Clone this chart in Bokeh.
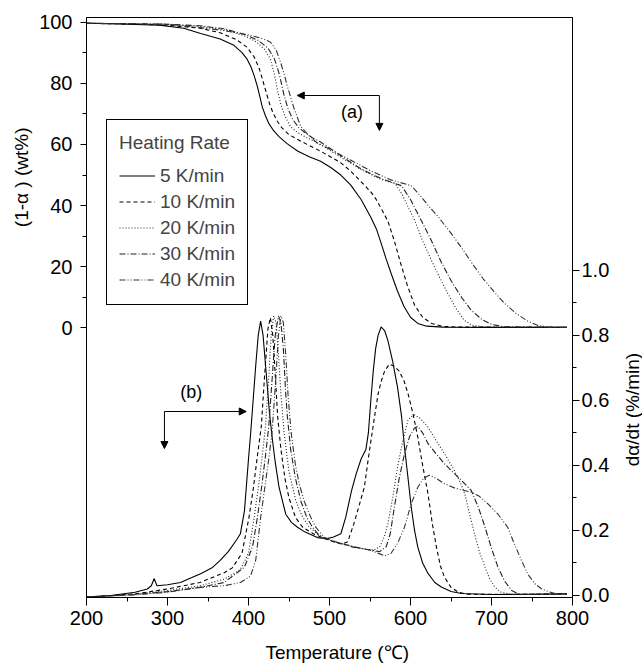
import math
from bokeh.plotting import figure
from bokeh.models import (Range1d, LinearAxis, FixedTicker, PrintfTickFormatter,
                          Legend, LegendItem, Label, Arrow, NormalHead, Title)
from bokeh.embed import file_html
from bokeh.resources import INLINE

# ---------------- data ----------------
# TGA curves: temperature (C) and residual mass (1-alpha) in wt%
T5 = [200, 250, 290, 320, 341, 365, 382, 392, 398, 403, 407, 411, 414, 417, 421, 425, 431, 438, 448, 461,
      475, 489, 502, 514, 526, 539, 551, 558, 564, 570, 576, 584, 592, 600, 609, 620, 640, 700, 793]
W5 = [99.6, 99.3, 99.0, 98.0, 96.3, 94.5, 92.4, 90.0, 88.0, 85.4, 82.5, 78.9, 75.6, 72.3, 69.3, 66.9, 64.5, 62.5, 60.2, 57.8,
      56.0, 54.5, 52.4, 50.0, 46.8, 42.0, 36.2, 32.3, 27.5, 22.5, 17.9, 12.0, 7.0, 3.5, 1.5, 0.6, 0.3, 0.2, 0.2]

T10 = [200, 250, 300, 340, 365, 385, 398, 407, 413, 417, 420, 423, 426, 430, 435, 441, 450, 465, 489, 514,
       526, 539, 551, 557, 565, 572, 580, 588, 596, 605, 615, 626, 640, 660, 793]
W10 = [99.6, 99.4, 99.0, 98.0, 96.5, 94.3, 91.8, 88.6, 85.0, 81.5, 78.7, 76.0, 73.3, 70.5, 67.8, 65.5, 63.2, 61.0, 57.8, 54.0,
       51.3, 47.8, 44.5, 42.3, 38.5, 35.0, 28.5, 21.0, 14.0, 7.5, 3.5, 1.5, 0.5, 0.3, 0.2]

T20 = [200, 250, 300, 340, 370, 395, 410, 420, 427, 432, 436, 440, 445, 452, 460, 470, 489, 514, 539, 564,
       581, 590, 598, 605, 615, 626, 636, 646, 656, 666, 676, 690, 710, 793]
W20 = [99.6, 99.5, 99.2, 98.6, 97.5, 95.5, 93.5, 91.0, 88.0, 82.8, 77.5, 73.0, 69.3, 65.8, 64.0, 62.5, 60.0, 55.8, 51.8, 48.5,
       47.3, 43.5, 39.0, 35.3, 28.5, 22.0, 16.5, 11.3, 6.5, 2.6, 0.9, 0.4, 0.2, 0.2]

T30 = [200, 250, 300, 340, 370, 395, 412, 424, 432, 438, 444, 449, 455, 462, 470, 480, 489, 514, 539, 564,
       589, 600, 613, 625, 638, 650, 663, 675, 688, 700, 715, 793]
W30 = [99.6, 99.5, 99.3, 98.8, 97.8, 96.0, 94.0, 91.5, 88.0, 83.0, 76.0, 71.5, 68.0, 65.5, 63.8, 62.0, 60.8, 56.3, 52.0, 48.8,
       46.5, 42.0, 35.3, 29.0, 21.5, 15.5, 10.0, 5.8, 2.8, 1.2, 0.4, 0.2]

T40 = [200, 250, 300, 340, 370, 400, 415, 427, 434, 440, 444, 448, 452, 456, 464.6, 475, 485, 500, 526, 550,
       575, 601, 612, 622, 634, 650, 665, 675, 690, 705, 716, 730, 745, 758, 770, 793]
W40 = [99.6, 99.5, 99.3, 98.2, 97.2, 95.8, 94.8, 93.5, 91.0, 86.5, 83.0, 79.0, 75.5, 72.0, 65.8, 62.8, 60.4, 58.5, 54.9, 51.5,
       48.5, 46.5, 43.3, 40.0, 36.4, 31.0, 25.5, 21.5, 16.0, 11.3, 8.1, 4.8, 2.2, 0.8, 0.3, 0.2]

# DTG curves: temperature (C) and d(alpha)/dt (%/min)
T5d = [200, 230, 260, 275, 280, 283.6, 287, 300, 316, 330, 341, 355, 365, 375, 385, 390, 395, 400, 403, 406,
       409, 412, 415, 418, 421, 423, 426, 429.5, 433, 437.7, 446, 453, 460.5, 470, 485, 497, 505, 514, 520, 527,
       533, 539, 545, 548, 551, 554, 557, 560, 563.7, 568, 572, 578, 584, 589, 592.6, 597, 601, 605, 609, 615,
       621.6, 630, 638, 650, 663, 700, 750, 793]
D5 = [-0.005, 0.0, 0.01, 0.02, 0.03, 0.052, 0.03, 0.033, 0.04, 0.055, 0.067, 0.085, 0.108, 0.135, 0.17, 0.19, 0.26, 0.42, 0.51, 0.61,
      0.71, 0.80, 0.844, 0.80, 0.71, 0.65, 0.56, 0.48, 0.41, 0.333, 0.25, 0.225, 0.21, 0.195, 0.178, 0.175, 0.18, 0.19, 0.24, 0.32,
      0.375, 0.42, 0.45, 0.50, 0.60, 0.69, 0.76, 0.80, 0.826, 0.815, 0.785, 0.72, 0.64, 0.55, 0.456, 0.36, 0.27, 0.20, 0.149, 0.10,
      0.068, 0.04, 0.026, 0.012, 0.006, 0.003, 0.004, 0.005]

T10d = [200, 260, 300, 340, 370, 380, 392, 400.6, 406, 411, 415.8, 420, 424, 427, 430, 433, 436, 440, 445, 450,
        458, 466.8, 480, 494, 505, 515, 522.5, 530, 537, 543, 549, 555, 560, 564, 568, 574, 580, 586, 592, 597,
        603, 609, 615, 621.6, 627, 632, 637, 642, 650, 659, 670, 720, 793]
D10 = [-0.005, 0.005, 0.02, 0.04, 0.07, 0.085, 0.13, 0.24, 0.33, 0.43, 0.52, 0.68, 0.82, 0.855, 0.80, 0.68, 0.55, 0.45, 0.36, 0.30,
       0.24, 0.21, 0.19, 0.175, 0.165, 0.158, 0.165, 0.22, 0.28, 0.333, 0.44, 0.54, 0.62, 0.66, 0.69, 0.712, 0.705, 0.69, 0.66, 0.62,
       0.56, 0.487, 0.40, 0.313, 0.22, 0.149, 0.09, 0.056, 0.025, 0.01, 0.004, 0.003, 0.005]

T20d = [200, 260, 300, 340, 370, 390, 400, 407, 412, 417, 421, 425, 428, 431, 434, 437, 440, 444, 450, 458.6,
        466, 475, 485, 494, 510, 530, 545, 555, 562, 567.5, 572, 578, 584, 590, 597, 601, 605, 612, 621.6, 632,
        642, 654, 661, 667, 673, 679, 685, 692, 698, 704, 712, 725, 793]
D20 = [-0.005, 0.004, 0.015, 0.03, 0.05, 0.08, 0.13, 0.24, 0.33, 0.43, 0.52, 0.67, 0.80, 0.86, 0.84, 0.74, 0.62, 0.50, 0.38, 0.29,
       0.245, 0.21, 0.19, 0.175, 0.163, 0.15, 0.142, 0.14, 0.15, 0.18, 0.22, 0.30, 0.395, 0.47, 0.54, 0.55, 0.555, 0.545, 0.518, 0.475,
       0.436, 0.385, 0.35, 0.313, 0.25, 0.19, 0.135, 0.087, 0.05, 0.026, 0.01, 0.003, 0.005]

T30d = [200, 260, 300, 340, 370, 395, 405, 411, 416, 421, 425, 429, 433, 437, 440, 443, 446, 448, 452, 458,
        464.7, 472, 479, 487, 494, 510, 530, 545, 555, 562, 570, 575, 580, 586, 592.6, 599, 605, 609, 615, 621.6,
        632, 642, 652, 663, 675, 684, 692, 700, 708, 716, 725, 735, 793]
D30 = [-0.005, 0.003, 0.012, 0.025, 0.04, 0.087, 0.15, 0.24, 0.33, 0.43, 0.52, 0.66, 0.80, 0.86, 0.84, 0.76, 0.62, 0.55, 0.45, 0.36,
       0.29, 0.24, 0.21, 0.185, 0.175, 0.163, 0.15, 0.142, 0.138, 0.135, 0.15, 0.19, 0.27, 0.36, 0.436, 0.49, 0.515, 0.52, 0.50, 0.467,
       0.435, 0.405, 0.38, 0.354, 0.323, 0.27, 0.21, 0.145, 0.087, 0.045, 0.015, 0.003, 0.005]

T40d = [200, 260, 300, 340, 370, 390, 402.6, 409, 415, 420, 425, 429, 433, 437, 440, 443, 446, 449, 452.7, 458,
        463, 468.8, 476, 483, 494, 510, 530, 550, 562, 568, 576, 584, 592.6, 601, 609, 616, 623, 632, 642, 655,
        675, 685, 695, 708, 720, 728, 737, 745, 753.6, 762, 770, 780, 793]
D40 = [-0.005, 0.002, 0.01, 0.025, 0.03, 0.04, 0.06, 0.11, 0.24, 0.33, 0.42, 0.50, 0.64, 0.80, 0.86, 0.84, 0.74, 0.61, 0.50, 0.40,
       0.34, 0.29, 0.245, 0.21, 0.178, 0.163, 0.148, 0.140, 0.128, 0.122, 0.13, 0.16, 0.21, 0.283, 0.333, 0.36, 0.37, 0.36, 0.344, 0.33,
       0.318, 0.305, 0.283, 0.25, 0.21, 0.16, 0.108, 0.065, 0.036, 0.02, 0.012, 0.005, 0.005]

series_labels = ["5 K/min", "10 K/min", "20 K/min", "30 K/min", "40 K/min"]
x_ticks = [200, 300, 400, 500, 600, 700, 800]
left_ticks = [0, 20, 40, 60, 80, 100]
right_ticks = [0.0, 0.2, 0.4, 0.6, 0.8, 1.0]

# ---------------- figure ----------------
FONT = "Liberation Sans"
p = figure(frame_width=486, frame_height=580,
           min_border_left=86, min_border_right=70, min_border_top=17, min_border_bottom=66,
           x_range=Range1d(200, 800), y_range=Range1d(-88.1, 101.5),
           output_backend="svg", toolbar_location=None, title=None)
p.extra_y_ranges = {"dtg": Range1d(-0.0062, 1.778)}
p.xgrid.visible = False
p.ygrid.visible = False
p.outline_line_color = "black"
p.outline_line_alpha = 1.0
p.outline_line_width = 1
p.background_fill_color = "white"
p.border_fill_color = "white"


def style_axis(ax, tick_out, standoff):
    ax.axis_line_color = "black"
    ax.axis_line_width = 1
    ax.major_tick_line_color = "black"
    ax.minor_tick_line_color = "black"
    ax.major_tick_in = 0
    ax.major_tick_out = tick_out
    ax.minor_tick_in = 0
    ax.minor_tick_out = 4
    ax.major_label_text_font = FONT
    ax.major_label_text_font_size = "20px"
    ax.major_label_text_color = "black"
    ax.major_label_standoff = standoff


xa = p.xaxis[0]
xa.ticker = FixedTicker(ticks=x_ticks, minor_ticks=[250, 350, 450, 550, 650, 750])
style_axis(xa, 8, 5)

ya = p.yaxis[0]
ya.ticker = FixedTicker(ticks=left_ticks, minor_ticks=[10, 30, 50, 70, 90])
style_axis(ya, 6, 8)

ra = LinearAxis(y_range_name="dtg",
                ticker=FixedTicker(ticks=right_ticks, minor_ticks=[0.1, 0.3, 0.5, 0.7, 0.9]),
                formatter=PrintfTickFormatter(format="%.1f"))
style_axis(ra, 7, 2)
p.add_layout(ra, "right")

dashes = ["solid", "4 3", "1 2", "6 2 1 2", "6 2 1 2 1 2"]
colors = ["black", "black", "#222222", "#222222", "#333333"]
tga = [(T5, W5), (T10, W10), (T20, W20), (T30, W30), (T40, W40)]
dtg = [(T5d, D5), (T10d, D10), (T20d, D20), (T30d, D30), (T40d, D40)]

items = []
for i in range(5):
    r = p.line(tga[i][0], tga[i][1], line_color=colors[i], line_width=1.1, line_dash=dashes[i])
    p.line(dtg[i][0], dtg[i][1], line_color=colors[i], line_width=1.1, line_dash=dashes[i],
           y_range_name="dtg")
    items.append(LegendItem(label=series_labels[i], renderers=[r]))

legend = Legend(items=items, location=(20, 292), title="Heating Rate",
                border_line_color="black", border_line_width=1, border_line_alpha=1,
                background_fill_color="white", background_fill_alpha=1,
                padding=12, spacing=1, margin=0, label_height=25, glyph_height=25,
                glyph_width=36, label_standoff=5,
                label_text_font=FONT, label_text_font_size="19px",
                title_text_font=FONT, title_text_font_size="19px",
                title_text_font_style="normal", title_standoff=9)
p.add_layout(legend)

# axis titles
p.add_layout(Title(text="(1-α ) (wt%)", align="right", offset=110, standoff=10,
                   text_font=FONT, text_font_size="19px", text_font_style="normal",
                   text_color="black"), "left")
p.add_layout(Label(x=873.5, y=0.572, y_range_name="dtg", text="dα/dt (%/min)", angle=math.pi / 2,
                   text_align="center", text_baseline="middle",
                   text_font=FONT, text_font_size="19px", text_color="black"), "right")
p.add_layout(Label(x=509.5, y=-106.2, text="Temperature (℃)",
                   text_align="center", text_baseline="alphabetic",
                   text_font=FONT, text_font_size="19px", text_color="black"), "below")

# annotations (a) and (b)
def head():
    return NormalHead(size=7, fill_color="black", line_color="black", line_width=1)

p.add_layout(Arrow(end=head(), x_start=561.6, y_start=76.0, x_end=460.2, y_end=76.0,
                   line_color="black", line_width=1))
p.add_layout(Arrow(end=head(), x_start=561.6, y_start=76.0, x_end=561.6, y_end=64.6,
                   line_color="black", line_width=1))
p.add_layout(Label(x=527.8, y=70.6, text="(a)", text_align="center", text_baseline="middle",
                   text_font=FONT, text_font_size="18px", text_color="black"))

p.add_layout(Arrow(end=head(), x_start=296.2, y_start=0.566, x_end=397.2, y_end=0.566,
                   line_color="black", line_width=1, y_range_name="dtg"))
p.add_layout(Arrow(end=head(), x_start=296.2, y_start=0.566, x_end=296.2, y_end=0.452,
                   line_color="black", line_width=1, y_range_name="dtg"))
p.add_layout(Label(x=329.2, y=0.6255, y_range_name="dtg", text="(b)", text_align="center",
                   text_baseline="middle", text_font=FONT, text_font_size="18px", text_color="black"))

open("out.html", "w").write(file_html(p, INLINE))
